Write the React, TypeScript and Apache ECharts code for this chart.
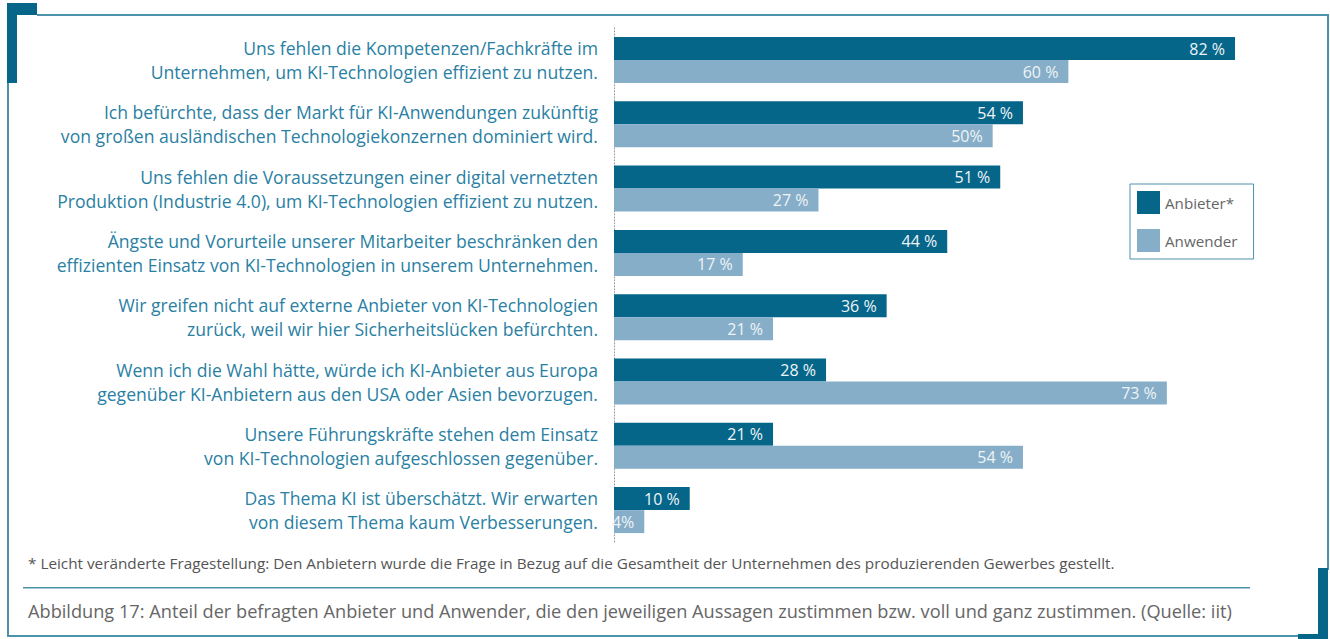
import React, { useEffect, useRef } from "react";
import * as echarts from "echarts";

const categories = [
  "Uns fehlen die Kompetenzen/Fachkräfte im\nUnternehmen, um KI-Technologien effizient zu nutzen.",
  "Ich befürchte, dass der Markt für KI-Anwendungen zukünftig\nvon großen ausländischen Technologiekonzernen dominiert wird.",
  "Uns fehlen die Voraussetzungen einer digital vernetzten\nProduktion (Industrie 4.0), um KI-Technologien effizient zu nutzen.",
  "Ängste und Vorurteile unserer Mitarbeiter beschränken den\neffizienten Einsatz von KI-Technologien in unserem Unternehmen.",
  "Wir greifen nicht auf externe Anbieter von KI-Technologien\nzurück, weil wir hier Sicherheitslücken befürchten.",
  "Wenn ich die Wahl hätte, würde ich KI-Anbieter aus Europa\ngegenüber KI-Anbietern aus den USA oder Asien bevorzugen.",
  "Unsere Führungskräfte stehen dem Einsatz\nvon KI-Technologien aufgeschlossen gegenüber.",
  "Das Thema KI ist überschätzt. Wir erwarten\nvon diesem Thema kaum Verbesserungen.",
];
const anbieter = [82, 54, 51, 44, 36, 28, 21, 10];
const anbieterLabels = ["82 %", "54 %", "51 %", "44 %", "36 %", "28 %", "21 %", "10 %"];
const anwender = [60, 50, 27, 17, 21, 73, 54, 4];
const anwenderLabels = ["60 %", "50%", "27 %", "17 %", "21 %", "73 %", "54 %", "4%"];
const seriesNames = ["Anbieter*", "Anwender"];
const footnote =
  "* Leicht veränderte Fragestellung: Den Anbietern wurde die Frage in Bezug auf die Gesamtheit der Unternehmen des produzierenden Gewerbes gestellt.";
const caption =
  "Abbildung 17: Anteil der befragten Anbieter und Anwender, die den jeweiligen Aussagen zustimmen bzw. voll und ganz zustimmen. (Quelle: iit)";

const DARK = "#05668a";
const LIGHT = "#86aec8";
const THIN = "#4c92aa";
const FONT = "'Open Sans', 'Liberation Sans', Arial, sans-serif";

export default function App() {
  const ref = useRef<HTMLDivElement>(null);
  useEffect(() => {
    if (!ref.current) return;
    const chart = echarts.init(ref.current, undefined, { renderer: "svg" });
    const labelStyle = {
      show: true,
      position: "insideRight" as const,
      distance: 10,
      color: "#eef4f7",
      fontSize: 16,
      fontFamily: FONT,
    };
    chart.setOption({
      animation: false,
      textStyle: { fontFamily: FONT },
      grid: { left: 614, top: 27.85, width: 681.6, height: 514.4 },
      xAxis: { type: "value", min: 0, max: 90, show: false },
      yAxis: {
        type: "category",
        inverse: true,
        data: categories,
        axisTick: { show: false },
        axisLine: { show: true, lineStyle: { color: "#999", type: [1, 2], width: 1 } },
        axisLabel: {
          margin: 16,
          fontSize: 17.6,
          lineHeight: 24,
          color: "#2a7fa3",
          fontFamily: FONT,
          align: "right",
        },
      },
      legend: {
        orient: "vertical",
        left: 1130,
        top: 184,
        itemWidth: 23,
        itemHeight: 23,
        itemGap: 15,
        padding: [7, 16, 7, 7],
        borderColor: THIN,
        borderWidth: 1,
        icon: "rect",
        textStyle: { color: "#666", fontSize: 15.2, fontFamily: FONT },
        data: seriesNames,
      },
      series: [
        {
          name: seriesNames[0],
          type: "bar",
          data: anbieter,
          barWidth: 23,
          barGap: "0%",
          itemStyle: { color: DARK },
          label: { ...labelStyle, formatter: (p: any) => anbieterLabels[p.dataIndex] },
        },
        {
          name: seriesNames[1],
          type: "bar",
          data: anwender,
          barWidth: 23,
          barGap: "0%",
          itemStyle: { color: LIGHT },
          label: { ...labelStyle, formatter: (p: any) => anwenderLabels[p.dataIndex] },
        },
      ],
      graphic: [
        { type: "rect", shape: { x: 37, y: 14, width: 1292, height: 2 }, style: { fill: THIN }, silent: true },
        { type: "rect", shape: { x: 1327, y: 14, width: 2, height: 556 }, style: { fill: THIN }, silent: true },
        { type: "rect", shape: { x: 7, y: 80, width: 2, height: 557 }, style: { fill: THIN }, silent: true },
        { type: "rect", shape: { x: 7, y: 635, width: 1293, height: 2 }, style: { fill: THIN }, silent: true },
        { type: "rect", shape: { x: 7, y: 3, width: 30, height: 12 }, style: { fill: DARK }, silent: true },
        { type: "rect", shape: { x: 7, y: 3, width: 10, height: 80 }, style: { fill: DARK }, silent: true },
        { type: "rect", shape: { x: 1318, y: 568, width: 10, height: 71 }, style: { fill: DARK }, silent: true },
        { type: "rect", shape: { x: 1298, y: 634, width: 30, height: 5 }, style: { fill: DARK }, silent: true },
        { type: "rect", shape: { x: 23, y: 587, width: 1227, height: 1.5 }, style: { fill: THIN }, silent: true },
        {
          type: "text",
          x: 28,
          y: 563,
          style: { text: footnote, fill: "#555", fontSize: 15.3, fontFamily: FONT, verticalAlign: "middle" },
        },
        {
          type: "text",
          x: 28,
          y: 611,
          style: { text: caption, fill: "#666", fontSize: 18.2, fontFamily: FONT, verticalAlign: "middle" },
        },
      ],
    });
    return () => chart.dispose();
  }, []);
  return (
    <div
      ref={ref}
      style={{ position: "fixed", left: 0, top: 0, width: 1330, height: 639, background: "#fff" }}
    />
  );
}
